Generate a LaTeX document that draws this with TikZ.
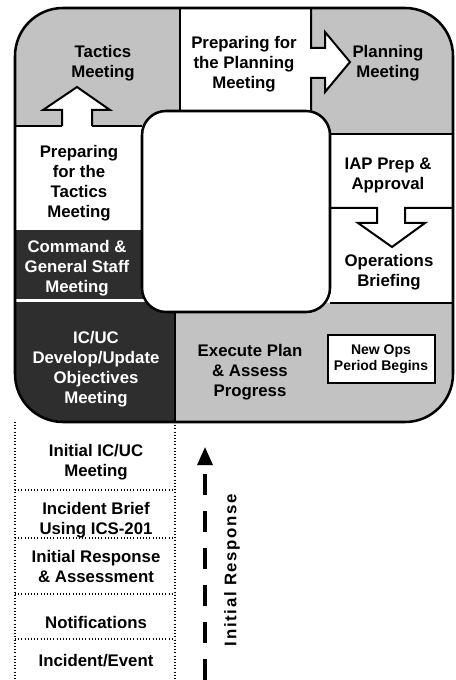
\documentclass[tikz,border=0pt]{standalone}
\usepackage{fontspec}
\setmainfont{Liberation Sans}
\newfontfamily\spacedfont[LetterSpace=10]{Liberation Sans}
\usetikzlibrary{arrows.meta}
\definecolor{lightpat}{gray}{0.76}
\definecolor{darkpat}{gray}{0.18}
\begin{document}
\begin{tikzpicture}[x=0.75pt,y=-0.75pt,
  lbl/.style={font=\fontsize{12.6}{15}\selectfont\bfseries, align=center, inner sep=0pt},
  lblw/.style={lbl, text=white},
  border/.style={line width=1.9pt, line join=round},
  divline/.style={line width=1.5pt, line join=miter},
  dotline/.style={line width=0.9pt, dash pattern=on 0.8pt off 1.6pt},
  newopsbox/.style={draw, line width=1.5pt, fill=white, minimum width=80.25pt, minimum height=36pt,
    font=\fontsize{10.5}{12}\selectfont\bfseries, align=center, inner sep=0pt},
  dasharrow/.style={line width=2.3pt, dash pattern=on 15.75pt off 12pt,
    -{Triangle[length=13.5pt,width=11.25pt]}}
]
\useasboundingbox (0,0) rectangle (455,680);

% ---------- region fills, clipped to the outer rounded square
\begin{scope}
  \clip[rounded corners=36pt] (15,8) rectangle (453,422);
  \fill[lightpat] (15,8) rectangle (180,126);
  \fill[white] (180,8) rectangle (311,111);
  \fill[lightpat] (311,8) rectangle (453,134);
  \fill[white] (15,126) rectangle (142,230);
  \fill[darkpat] (15,230) rectangle (150,299.5);
  \fill[darkpat] (15,302) rectangle (175,422);
  \fill[white] (330,134) rectangle (453,303);
  \fill[lightpat] (175,303) rectangle (453,422);
\end{scope}

% ---------- block arrows (white)
\fill[white] (62,128) -- (62,110) -- (43,110) -- (77,87) -- (110,110) -- (92,110) -- (92,128) -- cycle;
\draw[divline] (62,126) -- (62,110) -- (43,110) -- (77,87) -- (110,110) -- (92,110) -- (92,126);
\draw[divline] (15,126) -- (62,126);
\draw[divline] (92,126) -- (142,126);

\fill[white] (309,48) -- (325,48) -- (325,32) -- (350,62) -- (325,92) -- (325,78) -- (309,78) -- cycle;
\draw[divline] (311,8) -- (311,48) -- (325,48) -- (325,32) -- (350,62) -- (325,92) -- (325,78) -- (311,78) -- (311,111);

\fill[white] (377,206) -- (377,223) -- (358,223) -- (392,247) -- (425,223) -- (405,223) -- (405,206) -- cycle;
\draw[divline] (330,208) -- (377,208) -- (377,223) -- (358,223) -- (392,247) -- (425,223) -- (405,223) -- (405,208) -- (453,208);

% ---------- other dividers
\draw[divline] (180,8) -- (180,111);
\draw[divline] (330,134) -- (453,134);
\draw[divline] (330,303) -- (453,303);
\draw[divline] (175,312) -- (175,422);

% ---------- inner and outer rounded squares
\draw[border, fill=white, rounded corners=18pt] (142,111) rectangle (330,312);
\draw[border, rounded corners=36pt] (15,8) rectangle (453,422);

% ---------- labels in the cycle
\node[lbl] (tactics) at (103,63) {Tactics\\Meeting};
\node[lbl] (prepplan) at (244,64) {Preparing for\\the Planning\\Meeting};
\node[lbl] (planning) at (388,63) {Planning\\Meeting};
\node[lbl] (preptac) at (79,183) {Preparing\\for the\\Tactics\\Meeting};
\node[lblw] (cgs) at (77,268) {Command \&\\General Staff\\Meeting};
\node[lblw] (icuc) at (96,369) {IC/UC\\Develop/Update\\Objectives\\Meeting};
\node[lbl] (iap) at (388,175) {IAP Prep \&\\Approval};
\node[lbl] (opsb) at (389,272) {Operations\\Briefing};
\node[lbl] (exec) at (250,372) {Execute Plan\\\& Assess\\Progress};
\node[newopsbox] (newops) at (381,359) {New Ops\\Period Begins};

% ---------- initial response column
\draw[dotline] (15,422) -- (15,680);
\draw[dotline] (175,422) -- (175,680);
\foreach \yy in {490,538,594,639} \draw[dotline] (15,\yy) -- (175,\yy);
\node[lbl] (icmeet) at (96,462) {Initial IC/UC\\Meeting};
\node[lbl] (brief) at (96,520) {Incident Brief\\Using ICS-201};
\node[lbl] (resp) at (96,566) {Initial Response\\\& Assessment};
\node[lbl] (notif) at (96,622) {Notifications};
\node[lbl] (event) at (96,661) {Incident/Event};

\coordinate (arrbot) at (205,680);
\coordinate (arrtop) at (205,447);
\draw[dasharrow] (arrbot) -- (arrtop);
\node[rotate=90, inner sep=0pt, font=\spacedfont\fontsize{12.6}{15}\selectfont\bfseries] (initresp) at (232,570) {Initial Response};
\end{tikzpicture}
\end{document}
